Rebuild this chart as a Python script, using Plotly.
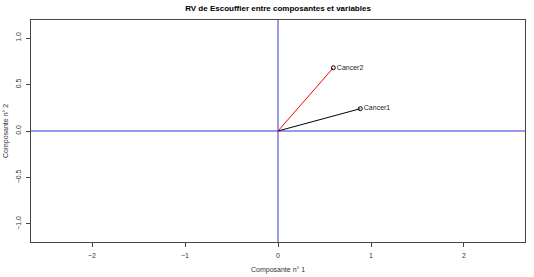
import plotly.graph_objects as go

variables = ["Cancer1", "Cancer2"]
comp1 = [0.885, 0.595]
comp2 = [0.24, 0.68]
line_colors = ["black", "red"]

x_ticks = [-2, -1, 0, 1, 2]
y_ticks = [-1.0, -0.5, 0.0, 0.5, 1.0]
y_tick_labels = ["−1.0", "−0.5", "0.0", "0.5", "1.0"]

fig = go.Figure()

# reference lines
fig.add_trace(go.Scatter(x=[-3, 3], y=[0, 0], mode="lines",
                         line=dict(color="#3535dd", width=1), hoverinfo="skip", showlegend=False))
fig.add_trace(go.Scatter(x=[0, 0], y=[-2, 2], mode="lines",
                         line=dict(color="#3535dd", width=1), hoverinfo="skip", showlegend=False))

for name, cx, cy, col in zip(variables, comp1, comp2, line_colors):
    fig.add_trace(go.Scatter(x=[0, cx], y=[0, cy], mode="lines",
                             line=dict(color=col, width=1), showlegend=False))
    fig.add_trace(go.Scatter(x=[cx], y=[cy], mode="markers+text", text=[name],
                             textposition="middle right",
                             textfont=dict(family="Liberation Sans, Arial", size=7, color="#222"),
                             marker=dict(symbol="circle-open", size=4, color="black",
                                         line=dict(width=1)),
                             showlegend=False))

fig.update_layout(
    width=534, height=277,
    margin=dict(l=31, r=9, t=20, b=35, autoexpand=False),
    paper_bgcolor="white", plot_bgcolor="white",
    font=dict(family="Liberation Sans, Arial", size=7, color="#333"),
    title=dict(text="<b>RV de Escouffier entre composantes et variables</b>",
               x=0.5, xanchor="center", xref="paper", y=1 - 8 / 277, yanchor="middle",
               font=dict(size=8, color="black")),
    annotations=[
        dict(text="Composante n° 1", xref="paper", yref="paper", x=0.5, y=-28 / 222,
             xanchor="center", yanchor="middle", showarrow=False,
             font=dict(size=7, color="#333")),
        dict(text="Composante n° 2", xref="paper", yref="paper", x=-25 / 494, y=0.5,
             xanchor="center", yanchor="middle", showarrow=False, textangle=-90,
             font=dict(size=7, color="#333")),
    ],
)
fig.update_xaxes(range=[-2.656, 2.656], tickvals=x_ticks, ticks="outside", ticklen=4,
                 showgrid=False, zeroline=False, showline=True, linecolor="#444",
                 linewidth=1, mirror=True, tickcolor="#444", automargin=False,
                 ticklabelstandoff=3)
fig.update_yaxes(range=[-1.194, 1.194], tickvals=y_ticks, ticktext=y_tick_labels,
                 tickangle=-90, ticks="outside", ticklen=4,
                 showgrid=False, zeroline=False, showline=True, linecolor="#444",
                 linewidth=1, mirror=True, tickcolor="#444", automargin=False,
                 ticklabelstandoff=2)

fig.write_html("out.html")
